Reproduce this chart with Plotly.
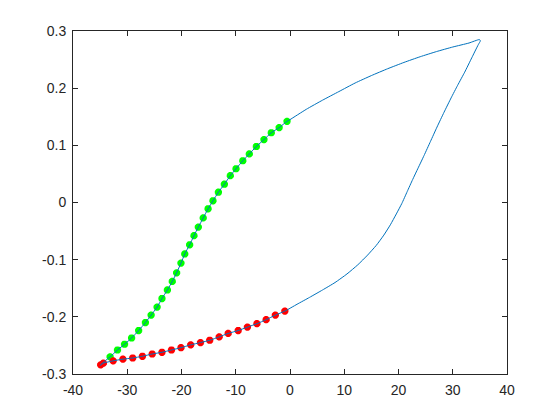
import plotly.graph_objects as go

# Blue hysteresis loop: upper (rising) branch, then lower (falling) branch
upper_x = [-35.0, -34.2, -33.16, -31.8, -30.5, -29.2, -27.9, -26.65, -25.6, -24.5, -23.6, -22.6,
           -21.7, -20.9, -20.1, -19.4, -18.5, -17.7, -16.9, -16.0, -15.1, -14.2, -13.2, -12.1,
           -11.0, -9.95, -8.7, -7.5, -6.2, -4.8, -3.45, -2.0, -0.55, 0.0, 3.0, 6.0, 9.0, 12.0,
           15.0, 18.0, 21.0, 24.0, 27.0, 30.0, 33.0, 34.9]
upper_y = [-0.285, -0.278, -0.270, -0.258, -0.248, -0.237, -0.224, -0.210, -0.197, -0.183, -0.168,
           -0.153, -0.138, -0.123, -0.106, -0.090, -0.074, -0.058, -0.043, -0.027, -0.011, 0.003,
           0.018, 0.032, 0.047, 0.059, 0.073, 0.085, 0.098, 0.110, 0.122, 0.131, 0.142, 0.145,
           0.163, 0.179, 0.194, 0.209, 0.222, 0.234, 0.245, 0.255, 0.264, 0.272, 0.279, 0.285]
lower_x = [35.1, 34.7, 33.5, 32.2, 30.9, 29.7, 28.4, 27.1, 25.9, 24.7, 23.6, 22.6, 21.6, 20.6,
           19.6, 18.5, 17.3, 15.9, 14.3, 12.5, 10.5, 8.3, 6.0, 3.6, 1.3, -0.95, -2.7, -4.4, -6.1,
           -7.85, -9.55, -11.4, -13.05, -14.8, -16.5, -18.3, -20.1, -21.85, -23.6, -25.4, -27.2,
           -29.0, -30.8, -32.6, -34.4, -35.0]
lower_y = [0.283, 0.276, 0.253, 0.228, 0.205, 0.183, 0.158, 0.132, 0.107, 0.082, 0.060, 0.040,
           0.019, -0.002, -0.020, -0.039, -0.057, -0.075, -0.092, -0.109, -0.125, -0.140, -0.153,
           -0.166, -0.178, -0.190, -0.197, -0.205, -0.212, -0.218, -0.224, -0.229, -0.235, -0.241,
           -0.245, -0.249, -0.254, -0.258, -0.262, -0.265, -0.269, -0.272, -0.274, -0.277, -0.281,
           -0.285]

# Green marked segment (rising branch)
green_x = [-33.16, -31.8, -30.5, -29.2, -27.9, -26.65, -25.6, -24.5, -23.6, -22.6, -21.7, -20.9,
           -20.1, -19.4, -18.5, -17.7, -16.9, -16.0, -15.1, -14.2, -13.2, -12.1, -11.0, -9.95,
           -8.7, -7.5, -6.2, -4.8, -3.45, -2.0, -0.55]
green_y = [-0.270, -0.258, -0.248, -0.237, -0.224, -0.210, -0.197, -0.183, -0.168, -0.153, -0.138,
           -0.123, -0.106, -0.090, -0.074, -0.058, -0.043, -0.027, -0.011, 0.003, 0.018, 0.032,
           0.047, 0.059, 0.073, 0.085, 0.098, 0.110, 0.122, 0.131, 0.142]

# Red marked segment (falling branch)
red_x = [-0.95, -2.7, -4.4, -6.1, -7.85, -9.55, -11.4, -13.05, -14.8, -16.5, -18.3, -20.1, -21.85,
         -23.6, -25.4, -27.2, -29.0, -30.8, -32.6, -34.4, -34.9]
red_y = [-0.190, -0.197, -0.205, -0.212, -0.218, -0.224, -0.229, -0.235, -0.241, -0.245, -0.249,
         -0.254, -0.258, -0.262, -0.265, -0.269, -0.272, -0.274, -0.277, -0.281, -0.284]

x_ticks = [-40, -30, -20, -10, 0, 10, 20, 30, 40]
x_labels = ["-40", "-30", "-20", "-10", "0", "10", "20", "30", "40"]
y_ticks = [-0.3, -0.2, -0.1, 0, 0.1, 0.2, 0.3]
y_labels = ["-0.3", "-0.2", "-0.1", "0", "0.1", "0.2", "0.3"]

fig = go.Figure()
marker_style = dict(symbol="asterisk-open", size=6)
fig.add_trace(go.Scatter(x=green_x, y=green_y, mode="markers",
                         marker=dict(**marker_style, color="#00FF00",
                                     line=dict(color="#00FF00", width=2.5))))
fig.add_trace(go.Scatter(x=red_x, y=red_y, mode="markers",
                         marker=dict(**marker_style, color="#FF0000",
                                     line=dict(color="#FF0000", width=2.5))))
fig.add_trace(go.Scatter(x=upper_x + lower_x, y=upper_y + lower_y, mode="lines",
                         line=dict(color="#0072BD", width=1, shape="spline", smoothing=0.5)))

axis_common = dict(showgrid=False, zeroline=False, showline=True, linecolor="#262626",
                   linewidth=1, mirror="ticks", ticks="inside", ticklen=5, tickcolor="#262626",
                   tickfont=dict(family="Liberation Sans, Arial", size=14, color="#262626"))
fig.update_xaxes(range=[-40, 40], tickvals=x_ticks, ticktext=x_labels,
                 ticklabelstandoff=3, **axis_common)
fig.update_yaxes(range=[-0.3, 0.3], tickvals=y_ticks, ticktext=y_labels,
                 ticklabelstandoff=3, **axis_common)
# the page body adds an 8px margin, so the figure is 16px smaller than the window
fig.update_layout(width=544, height=404, showlegend=False,
                  margin=dict(l=65, r=45, t=23, b=38, pad=0),
                  paper_bgcolor="white", plot_bgcolor="white")
fig.write_html("out.html")
